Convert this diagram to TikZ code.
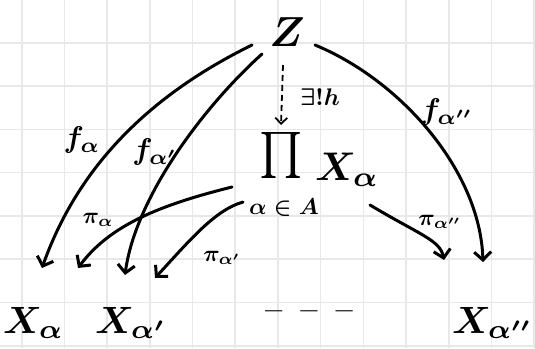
\documentclass[tikz,border=0pt]{standalone}
\usepackage{amsmath}
\usepackage{graphicx}
\usetikzlibrary{arrows.meta}
\begin{document}
\begin{tikzpicture}[x=1pt,y=-1pt,
  gridline/.style={draw=black!9, line width=1.6pt},
  ink/.style={line width=3pt, line cap=round, -{Straight Barb[length=8pt,width=17pt]}},
  dashink/.style={line width=1.8pt, dash pattern=on 6pt off 4pt, -{Straight Barb[length=6pt,width=12pt]}},
  txt/.style={inner sep=0pt, font=\boldmath}]
\useasboundingbox (0,0) rectangle (535,348);
\fill[white] (0,0) rectangle (535,348);
% grid
\foreach \gx in {21.7,64.4,107.1,149.8,192.5,235.2,277.9,320.6,363.3,406.0,448.7,491.4,534.1}
  \draw[gridline] (\gx,0) -- (\gx,348);
\foreach \gy in {42.7,86,129.3,172.6,215.9,259.2,302.5,345.8}
  \draw[gridline] (0,\gy) -- (535,\gy);
% nodes
\node[txt] (Z) at (287,32) {\scalebox{4.2}{$Z$}};
\node[txt] (P) at (281,155) {\scalebox{4.6}{$\textstyle\prod$}};
\node[txt, anchor=base west] (PX) at (315,180) {\scalebox{4}{$X_\alpha$}};
\node[txt] (PA) at (284,208) {\scalebox{2.3}{$\alpha\in A$}};
\node[txt, anchor=base west] (Xa) at (3,333) {\scalebox{3.8}{$X_\alpha$}};
\node[txt, anchor=base west] (Xb) at (95,333) {\scalebox{3.8}{$X_{\alpha'}$}};
\node[txt, anchor=base west] (Xc) at (452,333) {\scalebox{3.8}{$X_{\alpha''}$}};
\node[txt] (dots) at (309,315) {\scalebox{3}{\bfseries --\hspace{6pt}--\hspace{6pt}--}};
% labels
\node[txt] (fa) at (82,140) {\scalebox{3}{$f_\alpha$}};
\node[txt] (fb) at (155,152) {\scalebox{3}{$f_{\alpha'}$}};
\node[txt] (fc) at (447,112) {\scalebox{3}{$f_{\alpha''}$}};
\node[txt] (hl) at (320,97) {\scalebox{2.4}{$\exists!h$}};
\node[txt] (pa) at (98,220) {\scalebox{2.3}{$\pi_\alpha$}};
\node[txt] (pb) at (222,258) {\scalebox{2.3}{$\pi_{\alpha'}$}};
\node[txt] (pc) at (440,222) {\scalebox{2.3}{$\pi_{\alpha''}$}};
% connectors
\draw[ink] ([shift={(-35,13)}]Z.center) .. controls (140,100) and (75,175) .. ([shift={(39,-65)}]Xa.base west);
\draw[ink] ([shift={(-25,22)}]Z.center) .. controls (200,110) and (135,200) .. ([shift={(30,-58)}]Xb.base west);
\draw[ink] ([shift={(28,13)}]Z.center) .. controls (400,80) and (480,170) .. ([shift={(31,-71)}]Xc.base west);
\draw[dashink] ([shift={(-4,33)}]Z.center) -- ([shift={(0,-30)}]P.center);
\draw[ink] ([shift={(-52,-21)}]PA.center) .. controls (160,205) and (110,225) .. ([shift={(75,-65)}]Xa.base west);
\draw[ink] ([shift={(-41,-6)}]PA.center) .. controls (215,210) and (190,240) .. ([shift={(60,-55)}]Xb.base west);
\draw[ink] ([shift={(86,-3)}]PA.center) .. controls (420,235) and (440,240) .. ([shift={(-8,-73)}]Xc.base west);
\end{tikzpicture}
\end{document}
